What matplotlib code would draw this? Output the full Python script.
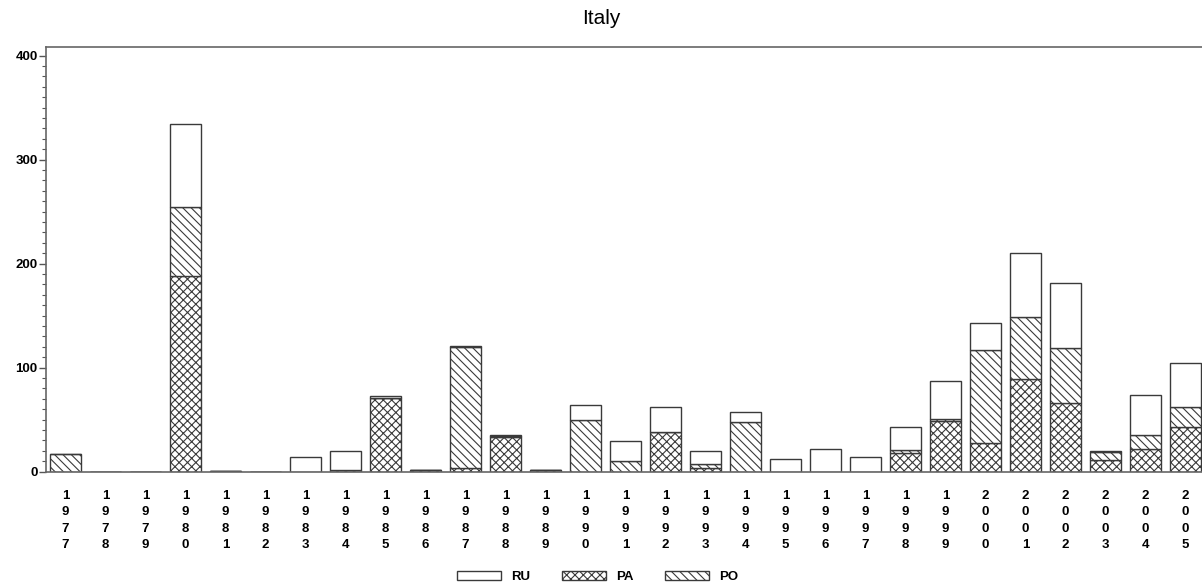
import matplotlib
matplotlib.use("Agg")
import matplotlib.pyplot as plt
from matplotlib.patches import Patch
import numpy as np

years = [1977, 1978, 1979, 1980, 1981, 1982, 1983, 1984, 1985, 1986,
         1987, 1988, 1989, 1990, 1991, 1992, 1993, 1994, 1995, 1996,
         1997, 1998, 1999, 2000, 2001, 2002, 2003, 2004, 2005]
PA = [0, 0, 0, 188, 1, 0, 0, 2, 71, 2,
      3.5, 33, 2, 0, 0, 38, 4, 0, 0, 0,
      0, 18, 49, 27.5, 89, 66.5, 11, 22, 43]
PO = [17, 0, 0, 66, 0, 0, 0, 0, 0, 0,
      116, 1, 0, 49.5, 10, 0, 3.5, 48, 0, 0,
      0, 2.5, 2, 89.5, 59.5, 52.5, 8, 13.5, 19.5]
RU = [0, 0, 0, 80, 0, 0, 14, 17.5, 1.5, 0,
      1, 1.5, 0, 15, 19.5, 24, 12, 9.5, 12, 21.5,
      14.4, 22, 36.5, 26, 61.5, 62, 1, 38, 42]
year_labels = ["\n".join(str(y)) for y in years]

plt.rcParams['hatch.linewidth'] = 0.8
plt.rcParams['hatch.color'] = '#555555'

fig = plt.figure(figsize=(12.02, 5.86), dpi=100)
ax = fig.add_axes([46/1202, 1 - 471.7/586, 1 - 46/1202, (471.7 - 47.3)/586])

x = np.arange(len(years))
pa = np.array(PA, float)
po = np.array(PO, float)
ru = np.array(RU, float)
w = 0.775
edge = '#3a3a3a'
ax.bar(x, pa, w, color='white', edgecolor=edge, linewidth=1.0, hatch='xxxx')
ax.bar(x, po, w, bottom=pa, color='white', edgecolor=edge, linewidth=1.0, hatch='\\\\\\\\')
ax.bar(x, ru, w, bottom=pa + po, color='white', edgecolor=edge, linewidth=1.0)

ax.set_xlim(-0.4875, 28.4125)
ax.set_ylim(0, 408)
ax.set_yticks([0, 100, 200, 300, 400])
ax.set_yticks(np.arange(0, 401, 10), minor=True)
ax.set_xticks(x)
ax.set_xticklabels(year_labels, fontfamily='Liberation Sans', fontweight='bold',
                   fontsize=9.5, linespacing=1.5)
ax.tick_params(axis='x', length=0, pad=13)
ax.tick_params(axis='y', which='major', length=5, width=1, color='#555555', pad=1,
               labelsize=9.5)
ax.tick_params(axis='y', which='minor', length=3, width=0.8, color='#555555')
for lab in ax.get_yticklabels():
    lab.set_fontfamily('Liberation Sans')
    lab.set_fontweight('bold')

for s in ['left', 'top', 'bottom']:
    ax.spines[s].set_color('#666666')
    ax.spines[s].set_linewidth(1.2)
ax.spines['right'].set_visible(False)

fig.text(601/1202, 1 - 19/586, 'Italy', ha='center', va='center',
         fontsize=15, fontfamily='Liberation Sans')

handles = [Patch(facecolor='white', edgecolor=edge, linewidth=1.0),
           Patch(facecolor='white', edgecolor=edge, linewidth=1.0, hatch='xxxx'),
           Patch(facecolor='white', edgecolor=edge, linewidth=1.0, hatch='\\\\\\\\')]
leg = fig.legend(handles, ['RU', 'PA', 'PO'], loc='center', ncol=3,
                 bbox_to_anchor=(598/1202, 1 - 577/586), frameon=False,
                 prop={'family': 'Liberation Sans', 'weight': 'bold', 'size': 9.5},
                 handlelength=3.3, handleheight=0.75, handletextpad=0.8,
                 columnspacing=2.4)

fig.savefig('out.png', dpi=100)
